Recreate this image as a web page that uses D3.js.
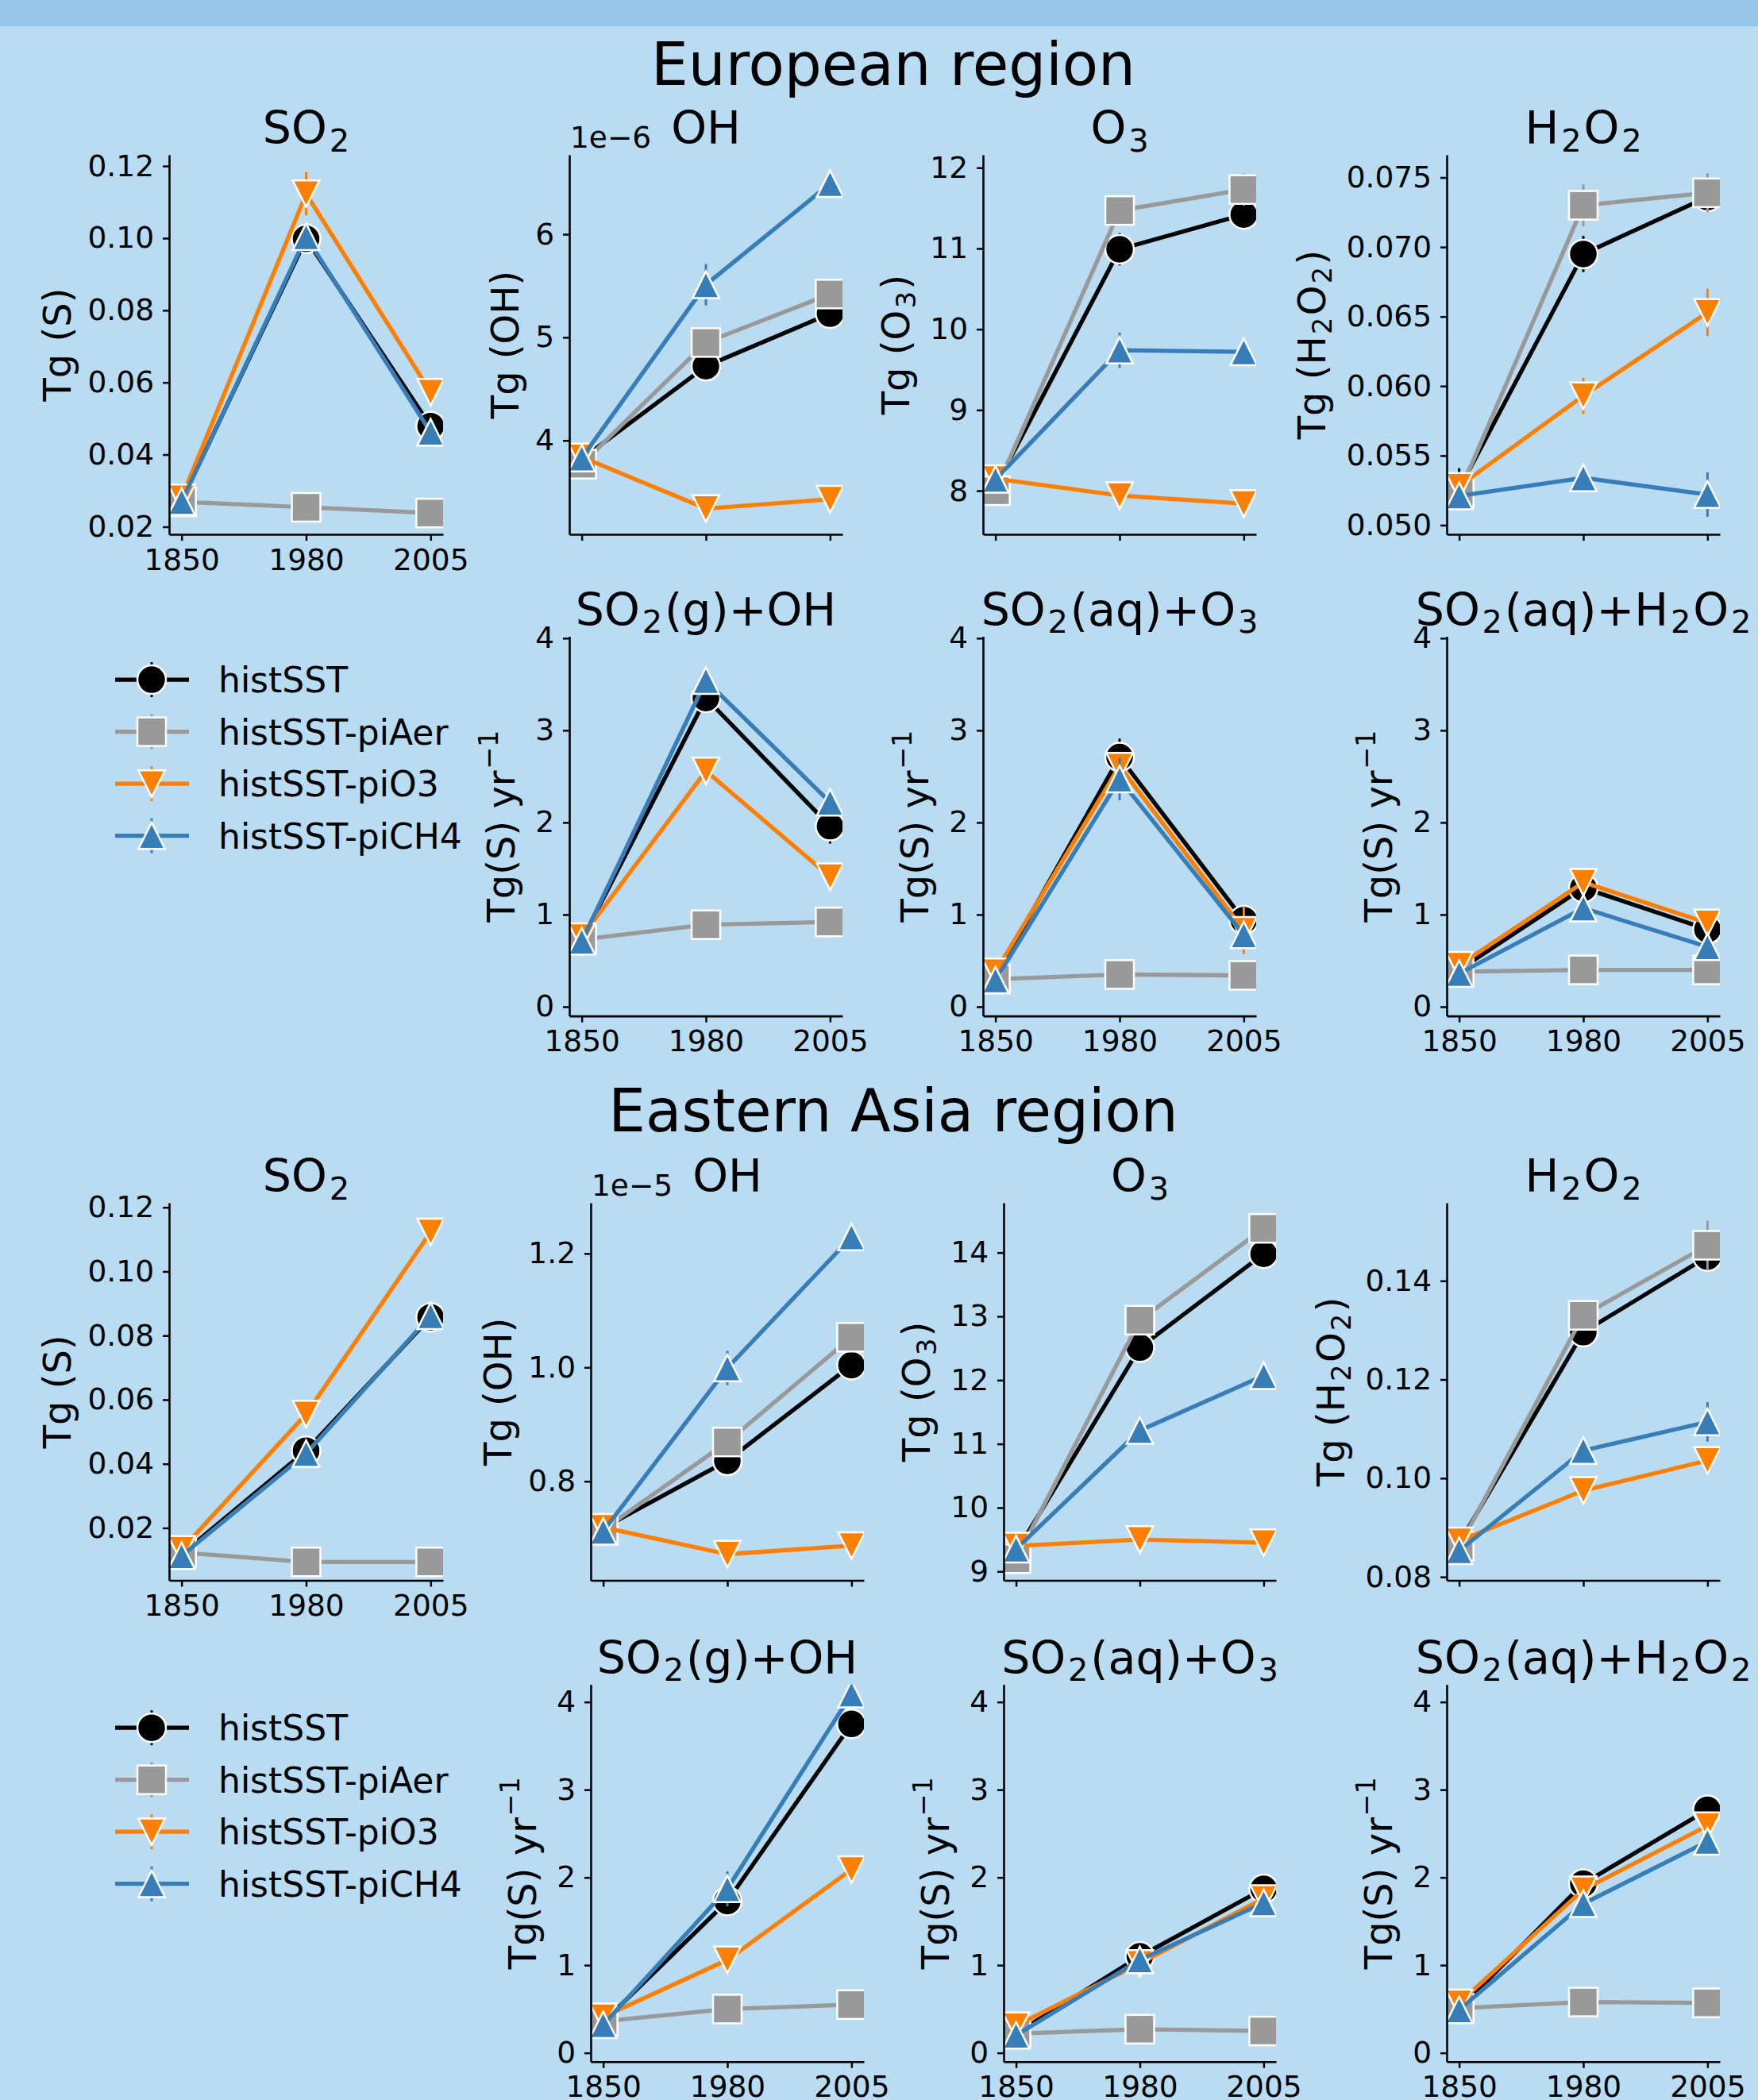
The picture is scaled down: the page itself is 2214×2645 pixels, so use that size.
<!DOCTYPE html>
<html><head><meta charset="utf-8">
<script src="https://cdn.jsdelivr.net/npm/d3@7"></script>
<style>
body{margin:0;background:#badcf2;}
svg{display:block;font-family:"DejaVu Sans";}
</style>
</head><body>
<svg id="c" width="2214" height="2645"></svg>
<script>
// ---------------- DATA ----------------
const years = ["1850", "1980", "2005"];
const experiments = ["histSST", "histSST-piAer", "histSST-piO3", "histSST-piCH4"];
const seriesColors = ["#000000", "#999999", "#ff7f00", "#377eb8"];
const markerTypes = ["circle", "square", "triangle-down", "triangle-up"];
const regionTitles = ["European region", "Eastern Asia region"];

// rows = experiments (histSST, piAer, piO3, piCH4); columns = years
// European region
const euSO2 = [[0.0272, 0.0998, 0.0479], [0.0269, 0.0254, 0.0238], [0.0280, 0.1123, 0.0573], [0.0270, 0.1004, 0.0462]];
const euSO2Err = [[0.001, 0.002, 0.001], [0.0005, 0.0005, 0.0005], [0.001, 0.006, 0.003], [0.001, 0.003, 0.001]];
const euOH = [[3.82e-6, 4.72e-6, 5.23e-6], [3.77e-6, 4.95e-6, 5.42e-6], [3.84e-6, 3.34e-6, 3.43e-6], [3.83e-6, 5.51e-6, 6.49e-6]];
const euOHErr = [[0.05e-6, 0.1e-6, 0.08e-6], [0.05e-6, 0.08e-6, 0.08e-6], [0.05e-6, 0.05e-6, 0.05e-6], [0.05e-6, 0.2e-6, 0.08e-6]];
const euO3 = [[8.05, 10.99, 11.42], [8.0, 11.47, 11.73], [8.15, 7.94, 7.84], [8.14, 9.74, 9.72]];
const euO3Err = [[0.1, 0.2, 0.12], [0.1, 0.15, 0.2], [0.1, 0.1, 0.1], [0.1, 0.22, 0.1]];
const euH2O2 = [[0.0526, 0.0695, 0.0736], [0.0523, 0.0730, 0.0739], [0.0528, 0.0593, 0.0653], [0.0521, 0.0534, 0.0522]];
const euH2O2Err = [[0.0015, 0.0013, 0.0006], [0.0008, 0.0015, 0.0014], [0.0008, 0.0013, 0.0017], [0.0008, 0.0008, 0.0016]];
const euRxnOH = [[0.72, 3.35, 1.96], [0.73, 0.89, 0.92], [0.76, 2.56, 1.41], [0.71, 3.54, 2.22]];
const euRxnOHErr = [[0.05, 0.1, 0.19], [0.05, 0.05, 0.05], [0.05, 0.1, 0.1], [0.05, 0.1, 0.1]];
const euRxnO3 = [[0.33, 2.71, 0.94], [0.30, 0.35, 0.34], [0.38, 2.61, 0.83], [0.29, 2.47, 0.78]];
const euRxnO3Err = [[0.05, 0.2, 0.1], [0.03, 0.05, 0.05], [0.05, 0.15, 0.26], [0.05, 0.23, 0.1]];
const euRxnH2O2 = [[0.40, 1.29, 0.84], [0.38, 0.40, 0.40], [0.45, 1.35, 0.91], [0.36, 1.07, 0.65]];
const euRxnH2O2Err = [[0.05, 0.1, 0.08], [0.03, 0.05, 0.05], [0.05, 0.08, 0.08], [0.05, 0.08, 0.06]];

// Eastern Asia region
const eaSO2 = [[0.0118, 0.0441, 0.0857], [0.0123, 0.0094, 0.0094], [0.0133, 0.0555, 0.1123], [0.0113, 0.0432, 0.0862]];
const eaSO2Err = [[0.001, 0.002, 0.002], [0.0005, 0.0005, 0.0005], [0.001, 0.002, 0.002], [0.001, 0.002, 0.003]];
const eaOH = [[0.718e-5, 0.836e-5, 1.004e-5], [0.715e-5, 0.869e-5, 1.053e-5], [0.719e-5, 0.672e-5, 0.687e-5], [0.712e-5, 0.999e-5, 1.229e-5]];
const eaOHErr = [[0.005e-5, 0.01e-5, 0.01e-5], [0.005e-5, 0.01e-5, 0.01e-5], [0.005e-5, 0.005e-5, 0.005e-5], [0.005e-5, 0.03e-5, 0.01e-5]];
const eaO3 = [[9.3, 12.51, 13.98], [9.2, 12.94, 14.38], [9.4, 9.5, 9.45], [9.35, 11.21, 12.07]];
const eaO3Err = [[0.1, 0.15, 0.15], [0.1, 0.1, 0.1], [0.1, 0.1, 0.1], [0.1, 0.1, 0.1]];
const eaH2O2 = [[0.0868, 0.1296, 0.1449], [0.0862, 0.1330, 0.1472], [0.0873, 0.0975, 0.1036], [0.0853, 0.1056, 0.1114]];
const eaH2O2Err = [[0.001, 0.002, 0.002], [0.001, 0.002, 0.005], [0.001, 0.002, 0.002], [0.001, 0.002, 0.004]];
const eaRxnOH = [[0.35, 1.73, 3.75], [0.36, 0.50, 0.55], [0.41, 1.06, 2.09], [0.32, 1.87, 4.09]];
const eaRxnOHErr = [[0.05, 0.1, 0.1], [0.03, 0.05, 0.05], [0.05, 0.15, 0.1], [0.05, 0.2, 0.1]];
const eaRxnO3 = [[0.22, 1.10, 1.87], [0.22, 0.27, 0.25], [0.31, 1.02, 1.76], [0.20, 1.06, 1.71]];
const eaRxnO3Err = [[0.03, 0.1, 0.1], [0.02, 0.05, 0.05], [0.03, 0.15, 0.15], [0.03, 0.1, 0.1]];
const eaRxnH2O2 = [[0.50, 1.93, 2.77], [0.51, 0.58, 0.57], [0.57, 1.86, 2.59], [0.49, 1.70, 2.41]];
const eaRxnH2O2Err = [[0.05, 0.1, 0.1], [0.03, 0.05, 0.05], [0.05, 0.1, 0.1], [0.05, 0.1, 0.1]];

// tick values
const ticksSO2 = [0.02, 0.04, 0.06, 0.08, 0.10, 0.12];
const ticksEuOH = [4e-6, 5e-6, 6e-6];
const ticksEuO3 = [8, 9, 10, 11, 12];
const ticksEuH2O2 = [0.050, 0.055, 0.060, 0.065, 0.070, 0.075];
const ticksRxn = [0, 1, 2, 3, 4];
const ticksEaOH = [0.8e-5, 1.0e-5, 1.2e-5];
const ticksEaO3 = [9, 10, 11, 12, 13, 14];
const ticksEaH2O2 = [0.08, 0.10, 0.12, 0.14];

// ---------------- LAYOUT ----------------
const W = 2214, H = 2645;
const FS_TICK = 37.5, FS_TITLE = 57, FS_YLAB = 48, FS_LEG = 44, FS_REGION = 74;
const rows = {r1: [195, 478], r2: [801.5, 478.1], r3: [1515, 475.5], r4: [2121.6, 475.1]};

const panels = [
  {data: euSO2, err: euSO2Err, title: "SO_{2}", ylabel: "Tg (S)", math: false, ticks: ticksSO2, fmt: d3.format(".2f"), domain: [0.0179, 0.1231], x: 213, w: 345, row: "r1", xlab: true},
  {data: euOH, err: euOHErr, title: "OH", ylabel: "Tg (OH)", math: false, ticks: ticksEuOH, scale: 1e-6, offset: "1e\u22126", fmt: d3.format("d"), domain: [3.09e-6, 6.77e-6], x: 717, w: 344, row: "r1", xlab: false},
  {data: euO3, err: euO3Err, title: "O_{3}", ylabel: "Tg (O_{3})", math: true, ticks: ticksEuO3, fmt: d3.format("d"), domain: [7.46, 12.16], x: 1238, w: 344, row: "r1", xlab: false},
  {data: euH2O2, err: euH2O2Err, title: "H_{2}O_{2}", ylabel: "Tg (H_{2}O_{2})", math: true, ticks: ticksEuH2O2, fmt: d3.format(".3f"), domain: [0.04934, 0.07663], x: 1822, w: 344, row: "r1", xlab: false},
  {data: euRxnOH, err: euRxnOHErr, title: "SO_{2}(g)+OH", ylabel: "Tg(S) yr^{\u22121}", math: true, ticks: ticksRxn, fmt: d3.format("d"), domain: [-0.1, 4.02], x: 717, w: 344, row: "r2", xlab: true},
  {data: euRxnO3, err: euRxnO3Err, title: "SO_{2}(aq)+O_{3}", ylabel: "Tg(S) yr^{\u22121}", math: true, ticks: ticksRxn, fmt: d3.format("d"), domain: [-0.1, 4.02], x: 1238, w: 344, row: "r2", xlab: true},
  {data: euRxnH2O2, err: euRxnH2O2Err, title: "SO_{2}(aq)+H_{2}O_{2}", ylabel: "Tg(S) yr^{\u22121}", math: true, ticks: ticksRxn, fmt: d3.format("d"), domain: [-0.1, 4.02], x: 1822, w: 344, row: "r2", xlab: true},

  {data: eaSO2, err: eaSO2Err, title: "SO_{2}", ylabel: "Tg (S)", math: false, ticks: ticksSO2, fmt: d3.format(".2f"), domain: [0.00365, 0.1214], x: 213, w: 345, row: "r3", xlab: true},
  {data: eaOH, err: eaOHErr, title: "OH", ylabel: "Tg (OH)", math: false, ticks: ticksEaOH, scale: 1e-5, offset: "1e\u22125", fmt: d3.format(".1f"), domain: [0.626e-5, 1.289e-5], x: 744, w: 344, row: "r3", xlab: false},
  {data: eaO3, err: eaO3Err, title: "O_{3}", ylabel: "Tg (O_{3})", math: true, ticks: ticksEaO3, fmt: d3.format("d"), domain: [8.86, 14.78], x: 1264, w: 343, row: "r3", xlab: false},
  {data: eaH2O2, err: eaH2O2Err, title: "H_{2}O_{2}", ylabel: "Tg (H_{2}O_{2})", math: true, ticks: ticksEaH2O2, fmt: d3.format(".2f"), domain: [0.0793, 0.1558], x: 1822, w: 344, row: "r3", xlab: false},
  {data: eaRxnOH, err: eaRxnOHErr, title: "SO_{2}(g)+OH", ylabel: "Tg(S) yr^{\u22121}", math: true, ticks: ticksRxn, fmt: d3.format("d"), domain: [-0.1, 4.2], x: 744, w: 344, row: "r4", xlab: true},
  {data: eaRxnO3, err: eaRxnO3Err, title: "SO_{2}(aq)+O_{3}", ylabel: "Tg(S) yr^{\u22121}", math: true, ticks: ticksRxn, fmt: d3.format("d"), domain: [-0.1, 4.2], x: 1264, w: 343, row: "r4", xlab: true},
  {data: eaRxnH2O2, err: eaRxnH2O2Err, title: "SO_{2}(aq)+H_{2}O_{2}", ylabel: "Tg(S) yr^{\u22121}", math: true, ticks: ticksRxn, fmt: d3.format("d"), domain: [-0.1, 4.2], x: 1822, w: 344, row: "r4", xlab: true}
];

const svg = d3.select("#c");
svg.append("rect").attr("width", W).attr("height", H).attr("fill", "#badcf2");
svg.append("rect").attr("width", W).attr("height", 33).attr("fill", "#95c5e9");
const defs = svg.append("defs");

// simple mathtext-like renderer for _{sub} and ^{sup}
function rich(textSel, str, fs) {
  const parts = str.split(/(_\{[^}]*\}|\^\{[^}]*\})/).filter(s => s.length);
  let shift = 0, pendingDx = 0;
  parts.forEach(p => {
    let t = p, target = 0, size = fs, dx = pendingDx;
    pendingDx = 0;
    if (p.startsWith("_{")) { t = p.slice(2, -1); target = 0.17 * fs; size = 0.7 * fs; dx += 0.05 * fs; pendingDx = 0.05 * fs; }
    else if (p.startsWith("^{")) { t = p.slice(2, -1); target = -0.42 * fs; size = 0.7 * fs; dx += 0.03 * fs; }
    const ts = textSel.append("tspan").attr("font-size", size).attr("dy", target - shift).text(t);
    if (dx) ts.attr("dx", dx);
    shift = target;
  });
}

const MS = 36, MS_TRI = 33.5;
function drawMarker(g, type, cx, cy, color) {
  const h = MS / 2, t = MS_TRI / 2;
  let el;
  if (type === "circle") el = g.append("circle").attr("cx", cx).attr("cy", cy).attr("r", h);
  else if (type === "square") el = g.append("rect").attr("x", cx - h).attr("y", cy - h).attr("width", MS).attr("height", MS);
  else if (type === "triangle-down") el = g.append("path").attr("d", `M${cx - t},${cy - t}L${cx + t},${cy - t}L${cx},${cy + t}Z`);
  else el = g.append("path").attr("d", `M${cx},${cy - t}L${cx + t},${cy + t}L${cx - t},${cy + t}Z`);
  el.attr("fill", color).attr("stroke", "#ffffff").attr("stroke-width", 2.5).attr("stroke-linejoin", "miter");
}

// region titles
svg.append("text").attr("x", 1125).attr("y", 106.5).attr("text-anchor", "middle").attr("font-size", FS_REGION).text(regionTitles[0]);
svg.append("text").attr("x", 1125).attr("y", 1425).attr("text-anchor", "middle").attr("font-size", FS_REGION).text(regionTitles[1]);

panels.forEach((p, pi) => {
  const [top, h] = rows[p.row];
  const xs = d3.scaleLinear().domain([-0.1, 2.1]).range([p.x, p.x + p.w]);
  const ys = d3.scaleLinear().domain(p.domain).range([top + h, top]);

  const cid = "clip" + pi;
  defs.append("clipPath").attr("id", cid).append("rect").attr("x", p.x).attr("y", top).attr("width", p.w).attr("height", h);
  const plot = svg.append("g").attr("clip-path", `url(#${cid})`);

  p.data.forEach((vals, si) => {
    const col = seriesColors[si];
    const g = plot.append("g");
    vals.forEach((v, i) => {
      g.append("line").attr("x1", xs(i)).attr("x2", xs(i))
        .attr("y1", ys(v - p.err[si][i])).attr("y2", ys(v + p.err[si][i]))
        .attr("stroke", col).attr("stroke-width", 3);
    });
    g.append("path").attr("d", d3.line()(vals.map((v, i) => [xs(i), ys(v)])))
      .attr("fill", "none").attr("stroke", col).attr("stroke-width", 5.3).attr("stroke-linejoin", "round");
    vals.forEach((v, i) => drawMarker(g, markerTypes[si], xs(i), ys(v), col));
  });

  // axes (spines drawn above data, like matplotlib)
  const yAxis = d3.axisLeft(ys).tickValues(p.ticks).tickSize(8).tickPadding(11).tickSizeOuter(0)
    .tickFormat(v => p.fmt(p.scale ? v / p.scale : v));
  const ya = svg.append("g").attr("transform", `translate(${p.x},0)`).call(yAxis);
  const xAxis = d3.axisBottom(xs).tickValues([0, 1, 2]).tickSize(8).tickPadding(10).tickSizeOuter(0)
    .tickFormat(i => p.xlab ? years[i] : "");
  const xa = svg.append("g").attr("transform", `translate(0,${top + h})`).call(xAxis);
  [ya, xa].forEach(a => {
    a.attr("font-family", "DejaVu Sans").attr("font-size", FS_TICK);
    a.selectAll("text").attr("fill", "#000");
    a.selectAll("line").attr("stroke", "#000").attr("stroke-width", 2.5);
    a.select(".domain").attr("stroke", "#000").attr("stroke-width", 2.6);
  });
  if (!p.xlab) xa.selectAll(".tick text").remove();

  // y label placed left of tick labels
  let minX = 0;
  ya.selectAll(".tick text").each(function () { const b = this.getBBox(); minX = Math.min(minX, b.x); });
  const tickLeft = p.x + minX;
  const ylx = tickLeft - (p.math ? 26.5 : 21.5);
  const yl = svg.append("text").attr("transform", `translate(${ylx},${top + h / 2}) rotate(-90)`)
    .attr("text-anchor", "middle").attr("font-size", FS_YLAB);
  rich(yl, p.ylabel, FS_YLAB);

  // title
  const tt = svg.append("text").attr("x", p.x + p.w / 2).attr("y", top - 14).attr("text-anchor", "middle").attr("font-size", FS_TITLE);
  rich(tt, p.title, FS_TITLE);

  if (p.offset) {
    svg.append("text").attr("x", p.x + 1).attr("y", top - 9).attr("font-size", FS_TICK).text(p.offset);
  }
});

// legends
[rows.r2[0], rows.r4[0]].forEach(top => {
  experiments.forEach((name, i) => {
    const y = top + 54.6 + i * 65.5;
    const g = svg.append("g");
    g.append("line").attr("x1", 145).attr("x2", 238).attr("y1", y).attr("y2", y).attr("stroke", seriesColors[i]).attr("stroke-width", 5.3);
    g.append("line").attr("x1", 191).attr("x2", 191).attr("y1", y - 22).attr("y2", y + 22).attr("stroke", seriesColors[i]).attr("stroke-width", 3);
    drawMarker(g, markerTypes[i], 191, y, seriesColors[i]);
    g.append("text").attr("x", 275).attr("y", y + 16).attr("font-size", FS_LEG).text(name);
  });
});
</script>
</body></html>
